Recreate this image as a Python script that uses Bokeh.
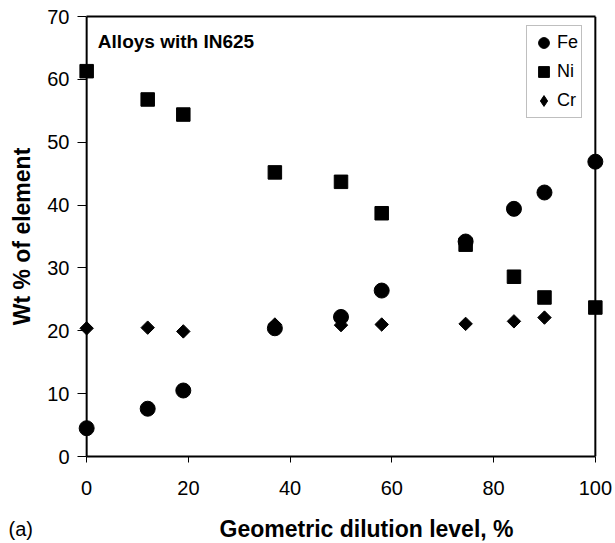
import numpy as np
from bokeh.plotting import figure
from bokeh.models import (Range1d, LinearAxis, FixedTicker, Span, Label,
                          Legend, LegendItem, Title)
from bokeh.embed import file_html
from bokeh.resources import INLINE

# ---- data ----
dilution = [0, 12, 19, 37, 50, 58, 74.5, 84, 90, 100]
fe = [4.5, 7.6, 10.5, 20.4, 22.2, 26.4, 34.2, 39.4, 42.0, 46.9]
ni = [61.3, 56.8, 54.4, 45.2, 43.7, 38.7, 33.7, 28.6, 25.3, 23.7]
cr_dilution = [0, 12, 19, 37, 50, 58, 74.5, 84, 90]
cr = [20.4, 20.5, 19.9, 21.0, 20.9, 21.0, 21.1, 21.5, 22.1]
x_ticks = [0, 20, 40, 60, 80, 100]
y_ticks = [0, 10, 20, 30, 40, 50, 60, 70]

FONT = "Liberation Sans"

p = figure(frame_width=527, frame_height=440,
           x_range=Range1d(-1.8, 101.8), y_range=Range1d(0, 70),
           output_backend="svg", toolbar_location=None,
           min_border_left=77, min_border_right=11,
           min_border_top=16, min_border_bottom=87)
p.outline_line_color = None
p.grid.visible = False
p.background_fill_color = "white"
p.border_fill_color = "white"

xa = p.xaxis[0]
xa.bounds = (0, 100)
xa.ticker = FixedTicker(ticks=x_ticks)
xa.minor_tick_line_color = None
xa.major_tick_out = 6
xa.major_tick_in = 0
xa.axis_line_width = 2
xa.axis_line_color = "black"
xa.major_tick_line_color = "black"
xa.major_label_text_font = FONT
xa.major_label_text_font_size = "20px"
xa.major_label_text_color = "black"
xa.major_label_standoff = 18
# leading no-break spaces shift the centred title right, as in the original
xa.axis_label = "\u00a0" * 8 + "Geometric dilution level, %"
xa.axis_label_text_font = FONT
xa.axis_label_text_font_style = "bold"
xa.axis_label_text_font_size = "23px"
xa.axis_label_text_color = "black"
xa.axis_label_standoff = 18

ya = p.yaxis[0]
ya.ticker = FixedTicker(ticks=y_ticks)
ya.axis_line_color = None
ya.minor_tick_line_color = None
ya.major_tick_in = 9
ya.major_tick_out = 0
ya.major_tick_line_color = "black"
ya.major_label_text_font = FONT
ya.major_label_text_font_size = "20px"
ya.major_label_text_color = "black"
ya.major_label_standoff = 8
ya.axis_label = "Wt % of element"
ya.axis_label_text_font = FONT
ya.axis_label_text_font_style = "bold"
ya.axis_label_text_font_size = "23px"
ya.axis_label_text_color = "black"
ya.axis_label_standoff = 9

top = LinearAxis(bounds=(0, 100), ticker=FixedTicker(ticks=[]),
                 axis_line_width=2, axis_line_color="black",
                 major_tick_line_color=None, minor_tick_line_color=None)
p.add_layout(top, "above")

p.add_layout(Span(location=0, dimension="height", line_color="black", line_width=2))
p.add_layout(Span(location=100, dimension="height", line_color="black", line_width=2))

r_fe = p.scatter(dilution, fe, marker="circle", size=15, color="black")
r_ni = p.scatter(dilution, ni, marker="square", size=13.5, color="black")
# diamond glyph used for the legend entry (hidden beneath the rotated squares)
r_cr_leg = p.scatter(cr_dilution, cr, marker="diamond", size=9, color="black")
r_cr = p.scatter(cr_dilution, cr, marker="square", angle=np.pi / 4, size=9.5, color="black")

legend = Legend(items=[LegendItem(label="Fe", renderers=[r_fe]),
                       LegendItem(label="Ni", renderers=[r_ni]),
                       LegendItem(label="Cr", renderers=[r_cr_leg])],
                location=(449, 338))
legend.glyph_width = 27
legend.glyph_height = 27
legend.label_standoff = 0
legend.spacing = 2
legend.padding = 3
legend.margin = 0
legend.border_line_color = "#808080"
legend.border_line_width = 1
legend.label_text_font = FONT
legend.label_text_font_size = "18px"
legend.label_text_color = "black"
legend.background_fill_color = "white"
legend.background_fill_alpha = 1
p.add_layout(legend)

p.add_layout(Label(x=2.2, y=66.0, text="Alloys with IN625", text_font=FONT,
                   text_font_size="19px", text_font_style="bold",
                   text_baseline="alphabetic", text_color="black"))

panel_label = Title(text="(a)", align="left", offset=-69, standoff=-54,
                    vertical_align="top", text_font=FONT,
                    text_font_size="20px", text_font_style="normal",
                    text_color="black")
p.add_layout(panel_label, "below")

open("out.html", "w").write(file_html(p, INLINE))
